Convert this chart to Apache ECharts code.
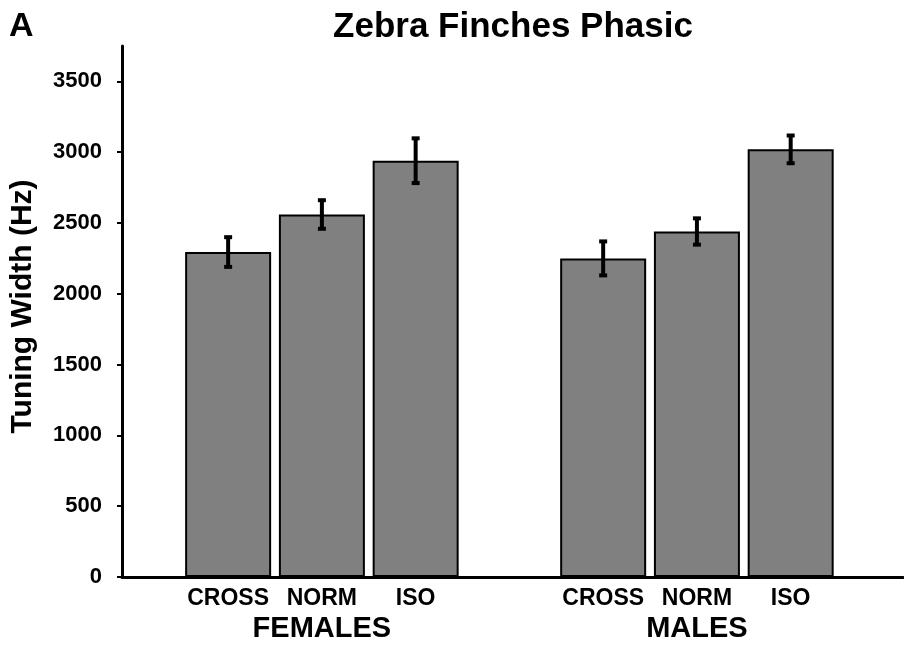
<!DOCTYPE html>
<html><head><meta charset="utf-8">
<script src="https://cdn.jsdelivr.net/npm/echarts@6/dist/echarts.min.js"></script>
<style>html,body{margin:0;padding:0;background:#fff}#c{width:904px;height:646px}</style>
</head><body><div id="c"></div>
<script>
// ---- data ----
const groups = ['FEMALES', 'MALES'];
const categories = ['CROSS', 'NORM', 'ISO'];
const femaleMeans = [2295, 2560, 2940];
const femaleErrors = [112, 108, 165];
const maleMeans = [2250, 2440, 3020];
const maleErrors = [127, 100, 105];
const yTicks = [0, 500, 1000, 1500, 2000, 2500, 3000, 3500];
const chartTitle = 'Zebra Finches Phasic';
const panelLetter = 'A';
const yAxisName = 'Tuning Width (Hz)';

// ---- build ----
const FONT = '"Liberation Sans", Arial, Helvetica, sans-serif';
const means = [femaleMeans, maleMeans], errs = [femaleErrors, maleErrors];
const slotsPerGroup = categories.length + 1;
const barData = [], errData = [], catPos = [], catName = {}, groupPos = [], groupName = {};
groups.forEach((g, gi) => {
  categories.forEach((c, ci) => {
    const x = gi * slotsPerGroup + ci;
    barData.push([x, means[gi][ci]]);
    errData.push([x, means[gi][ci] - errs[gi][ci], means[gi][ci] + errs[gi][ci]]);
    catPos.push(x); catName[x] = c;
  });
  const gx = gi * slotsPerGroup + (categories.length - 1) / 2;
  groupPos.push(gx); groupName[gx] = g;
});

const X_MIN = -1.132, X_MAX = 7.198;
const chart = echarts.init(document.getElementById('c'), null, {renderer: 'canvas'});
chart.setOption({
  backgroundColor: '#ffffff',
  animation: false,
  title: [
    {text: chartTitle, left: 508, top: 5, textAlign: 'center',
     textStyle: {fontFamily: FONT, fontWeight: 'bold', fontSize: 35, color: '#000'}},
    {text: panelLetter, left: 4, top: 5,
     textStyle: {fontFamily: FONT, fontWeight: 'bold', fontSize: 34, color: '#000'}}
  ],
  grid: {left: 116, right: 1, top: 46, bottom: 69, containLabel: false},
  xAxis: [
    {type: 'value', min: X_MIN, max: X_MAX, position: 'bottom',
     axisLine: {show: true, onZero: false, lineStyle: {color: '#000', width: 3}},
     axisTick: {show: false}, splitLine: {show: false},
     axisLabel: {customValues: catPos, formatter: v => catName[v] || '', margin: 10,
       fontFamily: FONT, fontWeight: 'bold', fontSize: 23, color: '#000'}},
    {type: 'value', min: X_MIN, max: X_MAX, position: 'bottom',
     axisLine: {show: false, onZero: false}, axisTick: {show: false}, splitLine: {show: false},
     axisLabel: {customValues: groupPos, formatter: v => groupName[v] || '', margin: 37,
       fontFamily: FONT, fontWeight: 'bold', fontSize: 29, color: '#000'}}
  ],
  yAxis: {
    type: 'value', min: 0, max: 3750,
    name: yAxisName, nameLocation: 'middle', nameGap: 84,
    nameTextStyle: {fontFamily: FONT, fontWeight: 'bold', fontSize: 30, color: '#000', padding: [0, 0, 0, 10]},
    axisLine: {show: true, onZero: false, lineStyle: {color: '#000', width: 3}},
    axisTick: {show: true, customValues: yTicks, length: 5, lineStyle: {color: '#000', width: 2}},
    splitLine: {show: false},
    axisLabel: {customValues: yTicks, formatter: v => String(v), margin: 20,
      fontFamily: FONT, fontWeight: 'bold', fontSize: 22, color: '#000'}
  },
  series: [
    {type: 'bar', xAxisIndex: 0, data: barData, barWidth: 86,
     itemStyle: {color: '#808080', borderColor: '#000', borderWidth: 2}},
    {type: 'custom', xAxisIndex: 0, data: errData, z: 5,
     renderItem: (params, api) => {
       const x = api.value(0);
       const lo = api.coord([x, api.value(1)]);
       const hi = api.coord([x, api.value(2)]);
       const cw = 8, ch = 4;
       return {type: 'group', children: [
         {type: 'line', shape: {x1: lo[0], y1: lo[1], x2: hi[0], y2: hi[1]}, style: {stroke: '#000', lineWidth: 4}},
         {type: 'rect', shape: {x: hi[0] - cw/2, y: hi[1] - 1, width: cw, height: ch}, style: {fill: '#000'}},
         {type: 'rect', shape: {x: lo[0] - cw/2, y: lo[1] - 3, width: cw, height: ch}, style: {fill: '#000'}}
       ]};
     }}
  ]
});
</script></body></html>
